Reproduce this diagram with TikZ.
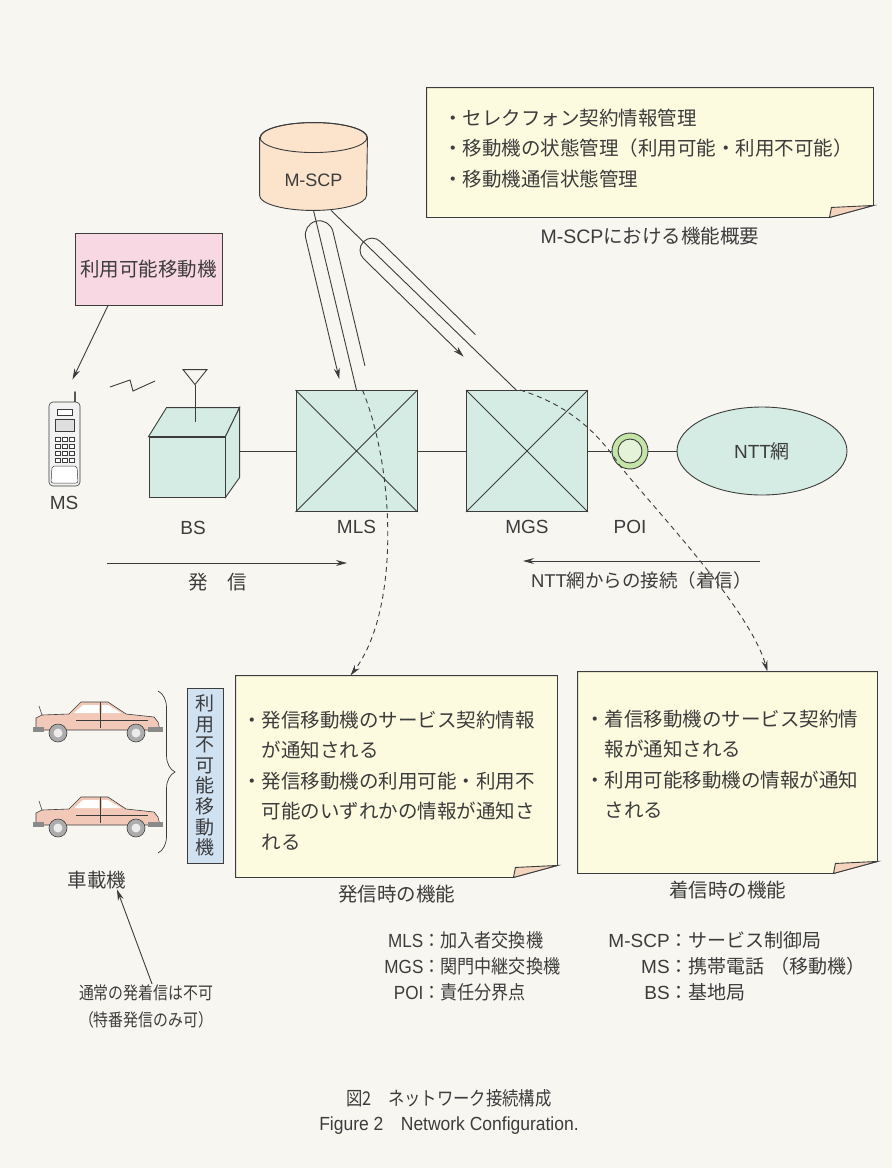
\documentclass[tikz,border=0pt]{standalone}
\usepackage{fontspec}
\usepackage{graphicx}
\setmainfont{Noto Sans CJK JP}
\newfontfamily\hel{Liberation Sans}
\usetikzlibrary{positioning,shapes,arrows.meta,calc,decorations.pathreplacing}

\definecolor{paper}{HTML}{F7F6F1}
\definecolor{ink}{HTML}{3C3C3C}
\definecolor{mint}{HTML}{D4ECE3}
\definecolor{memo}{HTML}{FCFBE0}
\definecolor{curl}{HTML}{F5D4BE}
\definecolor{peach}{HTML}{FBE3CC}
\definecolor{rose}{HTML}{F8D8E2}
\definecolor{sky}{HTML}{D0E1F2}
\definecolor{poig}{HTML}{C4E4A8}
\definecolor{carb}{HTML}{F2C9B9}

% narrow face for the key and the figure title
\newcommand{\nar}[2][0.9]{\scalebox{#1}[1]{#2}}

% memo sheet with a curled lower right corner
\newcommand{\memobox}[1]{%
  \draw[fill=memo] (#1.north west) -- (#1.north east) -- ([yshift=12pt]#1.south east)
      -- ([xshift=-44pt]#1.south east) -- (#1.south west) -- cycle;
  \draw[fill=curl] ([xshift=-44pt]#1.south east) -- ([xshift=-42pt,yshift=10pt]#1.south east)
      -- ([yshift=12pt]#1.south east) -- cycle;
}

\tikzstyle{sw}=[%
      rectangle, draw, fill=mint, minimum width=121pt, minimum height=121pt, inner sep=0pt
]
\tikzstyle{tx}=[%
      text=ink, font=\fontsize{19.5}{30.5}\selectfont, inner sep=0pt
]
\tikzstyle{lb}=[%
      text=ink, font=\hel\fontsize{19}{22}\selectfont, inner sep=0pt
]
\tikzstyle{sheet}=[%
      rectangle, inner sep=0pt
]

\tikzset{sedan/.pic={
    % body, rear to the left
    \draw[fill=carb, line width=.6pt] (0,-12) -- (0,-24) -- (6,-27) -- (33,-28) -- (45,-40)
        -- (72,-40) -- (90,-28) -- (118,-25) -- (122,-20) -- (124,-12) -- cycle;
    \fill[white] (47,-37) -- (63,-37) -- (63,-29) -- (38,-29) -- cycle;
    \fill[white] (66,-37) -- (72,-37) -- (85,-29) -- (66,-29) -- cycle;
    \draw[line width=.4pt] (64,-40) -- (64,-14) (40,-22) -- (112,-22);
    \fill[ink!60] (-3,-15) rectangle (8,-10);
    \fill[ink!60] (112,-15) rectangle (127,-10);
    \foreach \wx in {22,100} {
      \draw[fill=gray!65, line width=.6pt] (\wx,-9) circle (9);
      \fill[gray!15] (\wx,-9) circle (4.5);
    }
    \draw[line width=.6pt] (6,-27) -- (3,-36);
}}

\begin{document}
\begin{tikzpicture}[x=1pt, y=-1pt,
    color=ink,
    line width=0.9pt,
    >={Stealth[length=11pt, width=6pt]},
    dsh/.style={line width=0.9pt, dash pattern=on 5pt off 4pt},
]
    \path[use as bounding box, fill=paper] (0,0) rectangle (892,1168);

    % service control point
    \node[minimum width=107pt, minimum height=60pt, inner sep=0pt] (mscp) at (313.5,180) {};
    \draw[fill=peach] ($(mscp.north west)+(0,-12)$) -- ($(mscp.south west)+(0,-15)$)
        arc[start angle=180, end angle=0, x radius=53.5, y radius=15]
        -- ($(mscp.north east)+(0,-12)$)
        arc[start angle=0, end angle=-180, x radius=53.5, y radius=15] -- cycle;
    \draw ($(mscp.north)+(0,-12)$) ellipse[x radius=53.5, y radius=15];
    \node[lb, font=\hel\fontsize{18}{20}\selectfont] (mscpt) at (mscp) {M-SCP};

    % memo on the service control point
    \node[sheet, minimum width=446pt, minimum height=129pt] (nf) at (650,152.5) {};
    \memobox{nf}
    \node[tx, align=left, below right=21pt and 16pt of nf.north west] (nft)
        {・セレクフォン契約情報管理\\・移動機の状態管理（利用可能・利用不可能）\\・移動機通信状態管理};
    \node[tx, below=9pt of nf] (nfc) {{\hel M-SCP}における機能概要};

    % handset
    \node[rectangle, draw, fill=rose, minimum width=147pt, minimum height=72pt, tx] (avail)
        at (148.5,269) {利用可能移動機};
    \node[minimum width=34pt, minimum height=106pt, inner sep=0pt] (ms) at (64,433) {};
    \draw[line width=1.6pt, line cap=round, gray!70!black] (75,392) -- (75,404);
    \draw[fill=gray!10, rounded corners=4pt, line width=.6pt] (49,402) rectangle (80,486);
    \draw[fill=white, line width=.5pt] (57,409) rectangle (72,415);
    \draw[fill=gray!25, line width=.5pt] (55,419) rectangle (74,431);
    \foreach \r in {0,...,3}
      \foreach \c in {0,1,2}
        \draw[fill=white, line width=.4pt] ({55+\c*7},{437+\r*7}) rectangle +(5,4);
    \draw[fill=white, line width=.5pt, rounded corners=2pt] (52,466) -- (77,466) -- (78,483) -- (51,483) -- cycle;
    \node[lb, below=9pt of ms] (mst) {MS};
    \draw[->] (avail.222) -- (ms.81);
    \draw (110,387) -- (130,380) -- (133,391) -- (155,381);

    % base station
    \node[rectangle, draw, fill=mint, minimum width=76pt, minimum height=60pt] (bs) at (187,467) {};
    \draw[fill=mint] (bs.north west) -- ++(18,-29) -- ++(73,0) coordinate (bsb) -- (bs.north east) -- cycle;
    \draw[fill=mint] (bs.north east) -- (bsb) -- ++(0,70) -- (bs.south east) -- cycle;
    \coordinate (bsa) at ($(bs.north)+(8,-15)$);
    \draw (bsa) -- ++(0,-37) coordinate (bsp);
    \draw (bsp) -- ++(-12,-15) -- ++(24,0) -- cycle;
    \node[lb] (bst) at (193,528) {BS};

    % switching offices and the NTT side
    \node[sw] (mls) at (356.5,451) {};
    \node[sw] (mgs) at (527,451) {};
    \foreach \n in {mls,mgs}
      \draw (\n.north west) -- (\n.south east) (\n.north east) -- (\n.south west);
    \node[lb, below=8pt of mls] (mlst) {MLS};
    \node[lb, below=8pt of mgs] (mgst) {MGS};
    \node[circle, draw, fill=poig, minimum size=36pt, inner sep=0pt] (poi) at (630,451) {};
    \draw[fill=poig!45] (poi) circle (12);
    \node[lb] (poit) at (poi |- mgst) {POI};
    \node[ellipse, draw, fill=mint, minimum width=170pt, minimum height=88pt, lb,
          font=\fontsize{19}{22}\selectfont] (ntt) at (762,451) {{\hel NTT}網};

    \draw (bsb |- mls) -- (mls);
    \draw (mls) -- (mgs);
    \draw (mgs) -- (poi) -- (ntt);

    % signalling to the switches
    \draw (mscp.south) -- (mls.north);
    \draw (mscp.300) -- (mgs.100);
    \begin{scope}[shift={($(mscp.south)!25pt!(mls.north)$)}, rotate=-76.6]
      \draw[->] (138pt,14pt) -- (0pt,14pt) arc[start angle=90, end angle=270, radius=14pt] -- (145pt,-14pt);
    \end{scope}
    \begin{scope}[shift={($(mscp.300)!57pt!(mgs.100)$)}, rotate=-44.4]
      \draw[->] (133pt,12pt) -- (0pt,12pt) arc[start angle=90, end angle=270, radius=12pt] -- (140pt,-12pt);
    \end{scope}

    % call directions
    \coordinate (o1) at (107,563);
    \coordinate (o2) at (347,563);
    \draw[->] (o1) -- (o2) node[tx, pos=0.46, below=10pt] (ot) {発　信};
    \coordinate (i1) at (760,561);
    \coordinate (i2) at (523,561);
    \draw[->] (i1) -- (i2) node[tx, font=\fontsize{18.5}{22}\selectfont, midway, below=10pt] (it)
        {{\hel NTT}網からの接続（着信）};

    % what is told at call set-up
    \node[sheet, minimum width=321pt, minimum height=201pt] (nl) at (396.5,776.5) {};
    \memobox{nl}
    \node[tx, align=left, below right=35pt and 6pt of nl.north west] (nlt)
        {・発信移動機のサービス契約情報\\\hspace*{1em}が通知される\\・発信移動機の利用可能・利用不\\\hspace*{1em}可能のいずれかの情報が通知さ\\\hspace*{1em}れる};
    \node[tx, below=7pt of nl] (nlc) {発信時の機能};

    \node[sheet, minimum width=299pt, minimum height=201pt] (nr) at (727.5,772.5) {};
    \memobox{nr}
    \node[tx, align=left, below right=38pt and 7pt of nr.north west] (nrt)
        {・着信移動機のサービス契約情\\\hspace*{1em}報が通知される\\・利用可能移動機の情報が通知\\\hspace*{1em}される};
    \node[tx, below=7pt of nr] (nrc) {着信時の機能};

    \draw[dsh, ->] ([xshift=6pt]mls.north) .. controls (395,470) and (400,610) .. ([xshift=-46pt]nl.north);
    \draw[dsh, ->] ([xshift=-7pt]mgs.north) .. controls (570,405) and (600,435) .. (poi.240)
        .. controls (660,515) and (750,610) .. ([xshift=40pt]nr.north);

    % car-mounted sets
    \pic at (36,742) {sedan};
    \pic at (36,837) {sedan};
    \draw[line width=.7pt, decorate, decoration={brace, amplitude=17pt}] (158,691) -- (158,853);
    \node[rectangle, draw, fill=sky, minimum width=36pt, minimum height=175pt, tx, align=center,
          font=\fontsize{19}{20.6}\selectfont] (na) at (205,775.5)
        {利\\用\\不\\可\\能\\移\\動\\機};
    \node[tx] (vcl) at (97,880) {車載機};
    \node[tx, align=center, font=\fontsize{17.5}{27}\selectfont] (ord) at (146,1006)
        {\nar[0.85]{通常の発着信は不可}\\\nar[0.85]{（特番発信のみ可）}};
    \draw[->] ([xshift=6pt]ord.north) -- ([xshift=20pt]vcl.south);

    % key
    \node[tx, font=\fontsize{19}{26}\selectfont, anchor=west] (keyl) at (384,968) {\nar{%
      \begin{tabular}{@{}r@{：}l@{}}
        {\hel MLS} & 加入者交換機\\
        {\hel MGS} & 関門中継交換機\\
        {\hel POI} & 責任分界点
      \end{tabular}}};
    \node[tx, font=\fontsize{19}{26}\selectfont, anchor=west] (keyr) at (608,968) {%
      \begin{tabular}{@{}r@{：}l@{}}
        {\hel M-SCP} & サービス制御局\\
        {\hel MS} & 携帯電話\hspace{.3em}（移動機）\\
        {\hel BS} & 基地局
      \end{tabular}};

    \node[tx, align=center, font=\fontsize{19}{25}\selectfont] (ttl) at (449,1112)
        {\nar[0.86]{図2　ネットワーク接続構成}\\\nar[0.92]{\hel Figure 2\quad Network Configuration.}};
\end{tikzpicture}
\end{document}
